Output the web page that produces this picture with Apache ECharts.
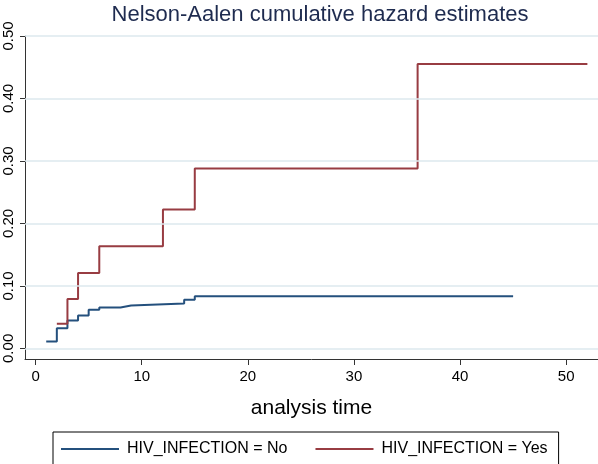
<!DOCTYPE html>
<html>
<head>
<meta charset="utf-8">
<script src="https://cdn.jsdelivr.net/npm/echarts@6/dist/echarts.min.js"></script>
<style>
html,body{margin:0;padding:0;background:#fff;}
#c{width:598px;height:464px;}
</style>
</head>
<body>
<div id="c"></div>
<script>
var titleText = 'Nelson-Aalen cumulative hazard estimates';
var xName = 'analysis time';
var xTicks = [0, 10, 20, 30, 40, 50];
var yTicks = [0, 0.1, 0.2, 0.3, 0.4, 0.5];
var seriesNames = ['HIV_INFECTION = No', 'HIV_INFECTION = Yes'];
var noTimes  = [1, 2, 3, 4, 5, 6, 8, 9, 14, 15, 45];
var noHaz    = [0.0109, 0.0324, 0.0446, 0.0527, 0.0618, 0.0655, 0.0687, 0.0719, 0.0778, 0.0836, 0.0836];
var yesTimes = [2, 3, 4, 6, 12, 15, 36, 52];
var yesHaz   = [0.0393, 0.079, 0.1207, 0.1634, 0.2223, 0.288, 0.455, 0.455];

function pairs(t, v){ return t.map(function(x,i){ return [x, v[i]]; }); }
var font = 'Liberation Sans, Arial, sans-serif';
var chart = echarts.init(document.getElementById('c'), null, {renderer:'canvas'});
chart.setOption({
  animation:false,
  backgroundColor:'#ffffff',
  title:{text:titleText,left:315,textAlign:'center',top:-1,
    textStyle:{fontFamily:font,fontSize:22,fontWeight:'normal',color:'#1e2b4f'}},
  grid:{left:25,right:0,top:36,bottom:105,containLabel:false},
  xAxis:{type:'value',min:-1,max:53,
    name:xName,nameLocation:'middle',nameGap:39,
    nameTextStyle:{fontFamily:font,fontSize:21,color:'#000'},
    axisLine:{onZero:false,lineStyle:{color:'#333',width:1}},
    axisTick:{show:true,length:6,customValues:xTicks,lineStyle:{color:'#333'}},
    axisLabel:{customValues:xTicks,fontFamily:font,fontSize:15,color:'#000',margin:10},
    splitLine:{show:false}},
  yAxis:{type:'value',min:-0.017,max:0.5,
    axisLine:{show:true,onZero:false,lineStyle:{color:'#333',width:1}},
    axisTick:{show:true,length:5,customValues:yTicks,lineStyle:{color:'#333'}},
    axisLabel:{customValues:yTicks,rotate:90,fontFamily:font,fontSize:15,color:'#000',margin:9,
      formatter:function(v){return v.toFixed(2);}},
    splitLine:{show:false}},
  legend:{left:53,top:432,width:516,orient:'horizontal',
    borderColor:'#000',borderWidth:1,padding:[9,11,20,8],
    itemWidth:58,itemHeight:2,itemGap:28,icon:'rect',
    textStyle:{fontFamily:font,fontSize:16,color:'#000',padding:[0,0,0,3]},
    data:seriesNames},
  series:[
    {name:seriesNames[0],type:'line',step:'end',data:pairs(noTimes,noHaz),
     showSymbol:false,symbol:'none',lineStyle:{color:'#24507d',width:2},itemStyle:{color:'#24507d'},
     z:3,
     markLine:{silent:true,symbol:['none','none'],label:{show:false},animation:false,
       lineStyle:{color:'#dde8ee',width:1.5,type:'solid'},
       data:yTicks.map(function(v){return {yAxis:v};})}},
    {name:seriesNames[1],type:'line',step:'end',data:pairs(yesTimes,yesHaz),
     showSymbol:false,symbol:'none',lineStyle:{color:'#983c42',width:2},itemStyle:{color:'#983c42'},z:4}
  ]
});
</script>
</body>
</html>
